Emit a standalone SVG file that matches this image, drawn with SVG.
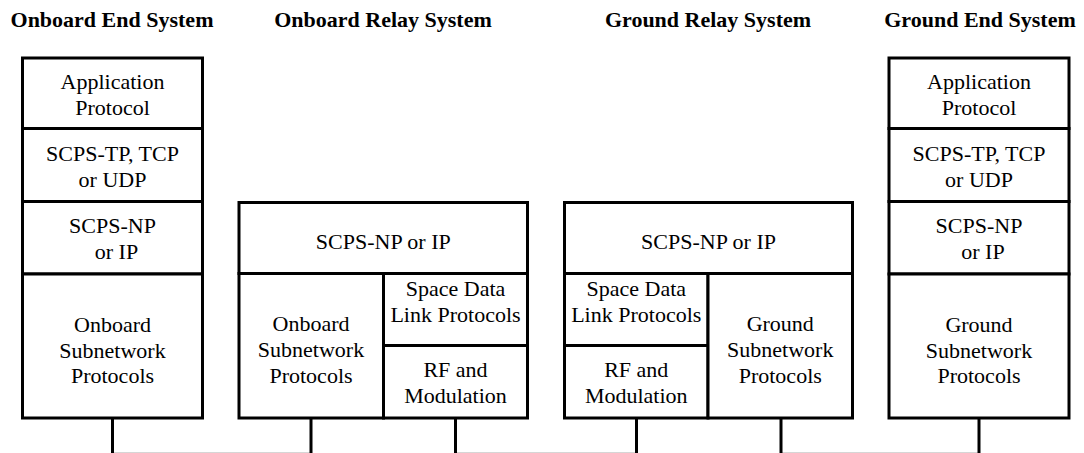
<svg xmlns="http://www.w3.org/2000/svg" width="1084" height="453" viewBox="0 0 1084 453">
<style>
.cell{fill:#fff;stroke:#000;stroke-width:3}
.t{font-family:'Liberation Serif','DejaVu Serif',serif;font-size:22px;font-weight:normal;text-anchor:middle;fill:#000}
.h{font-family:'Liberation Serif','DejaVu Serif',serif;font-size:22px;font-weight:bold;text-anchor:middle;fill:#000}
.wire{stroke:#000;stroke-width:3;fill:none}
.base{stroke:#d6d6d6;stroke-width:1;fill:none}
</style>
<rect x="0" y="0" width="1084" height="453" fill="#fff"/>
<g id="titles">
<text class="h" x="112" y="27">Onboard End System</text>
<text class="h" x="383" y="27">Onboard Relay System</text>
<text class="h" x="708" y="27">Ground Relay System</text>
<text class="h" x="980" y="27">Ground End System</text>
</g>
<g id="onboard-end">
<g id="oe-app"><rect class="cell" x="22.5" y="58" width="180" height="70.5"/><text class="t" x="112.5" y="89">Application</text><text class="t" x="112.5" y="114.5">Protocol</text></g>
<g id="oe-tp"><rect class="cell" x="22.5" y="128.5" width="180" height="73"/><text class="t" x="112.5" y="160.5">SCPS-TP, TCP</text><text class="t" x="112.5" y="186.5">or UDP</text></g>
<g id="oe-np"><rect class="cell" x="22.5" y="201.5" width="180" height="72.5"/><text class="t" x="112.5" y="232.5">SCPS-NP</text><text class="t" x="116.5" y="258.5">or IP</text></g>
<g id="oe-sub"><rect class="cell" x="22.5" y="274" width="180" height="144"/><text class="t" x="112.5" y="332">Onboard</text><text class="t" x="112.5" y="357.5">Subnetwork</text><text class="t" x="112.5" y="383">Protocols</text></g>
</g>
<g id="onboard-relay">
<g id="or-np"><rect class="cell" x="239" y="202.5" width="288.5" height="71"/><text class="t" x="383.25" y="249">SCPS-NP or IP</text></g>
<g id="or-sub"><rect class="cell" x="239" y="273.5" width="144.5" height="144.5"/><text class="t" x="311" y="331">Onboard</text><text class="t" x="311" y="357">Subnetwork</text><text class="t" x="311" y="383">Protocols</text></g>
<g id="or-sdl"><rect class="cell" x="383.5" y="273.5" width="144" height="72"/><text class="t" x="455.5" y="296">Space Data</text><text class="t" x="455.5" y="321.5">Link Protocols</text></g>
<g id="or-rf"><rect class="cell" x="383.5" y="345.5" width="144" height="72.5"/><text class="t" x="455.5" y="377">RF and</text><text class="t" x="455.5" y="402.5">Modulation</text></g>
</g>
<g id="ground-relay">
<g id="gr-np"><rect class="cell" x="564.5" y="202.5" width="288" height="71"/><text class="t" x="708.5" y="249">SCPS-NP or IP</text></g>
<g id="gr-sdl"><rect class="cell" x="564.5" y="273.5" width="143.5" height="72"/><text class="t" x="636.25" y="296">Space Data</text><text class="t" x="636.25" y="321.5">Link Protocols</text></g>
<g id="gr-rf"><rect class="cell" x="564.5" y="345.5" width="143.5" height="72.5"/><text class="t" x="636.25" y="377">RF and</text><text class="t" x="636.25" y="402.5">Modulation</text></g>
<g id="gr-sub"><rect class="cell" x="708" y="273.5" width="144.5" height="144.5"/><text class="t" x="780.25" y="331">Ground</text><text class="t" x="780.25" y="357">Subnetwork</text><text class="t" x="780.25" y="383">Protocols</text></g>
</g>
<g id="ground-end">
<g id="ge-app"><rect class="cell" x="889" y="58" width="180" height="70.5"/><text class="t" x="979" y="89">Application</text><text class="t" x="979" y="114.5">Protocol</text></g>
<g id="ge-tp"><rect class="cell" x="889" y="128.5" width="180" height="73"/><text class="t" x="979" y="160.5">SCPS-TP, TCP</text><text class="t" x="979" y="186.5">or UDP</text></g>
<g id="ge-np"><rect class="cell" x="889" y="201.5" width="180" height="72.5"/><text class="t" x="979" y="232.5">SCPS-NP</text><text class="t" x="983" y="258.5">or IP</text></g>
<g id="ge-sub"><rect class="cell" x="889" y="274" width="180" height="144"/><text class="t" x="979" y="332">Ground</text><text class="t" x="979" y="357.5">Subnetwork</text><text class="t" x="979" y="383">Protocols</text></g>
</g>
<g id="connectors">
<line class="base" x1="112.5" y1="452.5" x2="311" y2="452.5"/>
<line class="base" x1="455.5" y1="452.5" x2="636.5" y2="452.5"/>
<line class="base" x1="781" y1="452.5" x2="979" y2="452.5"/>
<line class="wire" x1="112.5" y1="418" x2="112.5" y2="453"/>
<line class="wire" x1="311" y1="418" x2="311" y2="453"/>
<line class="wire" x1="455.5" y1="418" x2="455.5" y2="453"/>
<line class="wire" x1="636.5" y1="418" x2="636.5" y2="453"/>
<line class="wire" x1="781" y1="418" x2="781" y2="453"/>
<line class="wire" x1="979" y1="418" x2="979" y2="453"/>
</g>
</svg>
